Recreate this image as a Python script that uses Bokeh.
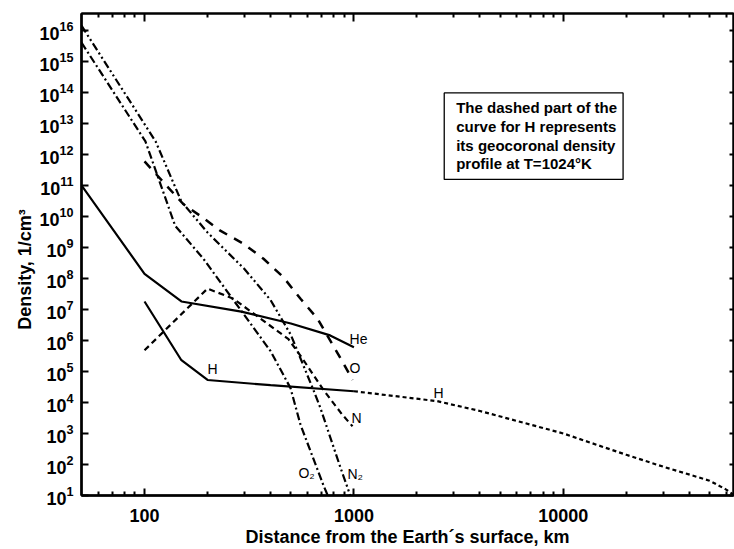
from bokeh.plotting import figure
from bokeh.models import LogAxis, FixedTicker, CustomJSTickFormatter, LogTickFormatter
from bokeh.core.properties import value
from bokeh.embed import file_html
from bokeh.resources import INLINE

# ---- data (distance from Earth's surface, km ; density, 1/cm^3) ----
he_km = [50, 100, 150, 290, 500, 770, 1000]
he_dens = [1.0e11, 1.4e8, 1.8e7, 8.5e6, 3.5e6, 1.45e6, 6.0e5]

h_km = [100, 150, 200, 400, 1000]
h_dens = [1.8e7, 2.3e5, 5.3e4, 3.6e4, 2.3e4]

hgeo_km = [1000, 2500, 4000, 10000, 20000, 30000, 50000, 60000, 65000]
hgeo_dens = [2.3e4, 1.1e4, 5.3e3, 1.0e3, 205, 85, 30, 15.5, 10.5]

o_km = [100, 153, 189, 231, 297, 370, 460, 556, 670, 881, 985]
o_dens = [5.9e11, 2.5e10, 9.3e9, 3.4e9, 1.3e9, 4.3e8, 1.1e8, 2.2e7, 5.0e6, 2.1e5, 5.3e4]

n_km = [100, 200, 266, 487, 568, 716, 881, 985]
n_dens = [4.8e5, 4.7e7, 2.2e7, 1.1e6, 2.6e5, 2.5e4, 4.0e3, 1.7e3]

n2_km = [50, 113, 150, 200, 300, 400, 500, 641, 692, 862, 932, 960]
n2_dens = [1.4e16, 2.6e12, 3.0e10, 3.0e9, 2.0e8, 2.0e7, 1.5e6, 2.5e4, 6.6e3, 80, 18, 10]

o2_km = [50, 101, 140, 191, 400, 498, 556, 714, 750]
o2_dens = [4.0e15, 2.6e12, 5.0e9, 4.3e8, 4.5e5, 2.9e4, 1.9e3, 22, 10]

x_major = [100.0, 1000.0, 10000.0]
x_minor = [60.0, 70.0, 80.0, 90.0, 200.0, 300.0, 400.0, 500.0, 600.0, 700.0, 800.0, 900.0,
           2000.0, 3000.0, 4000.0, 5000.0, 6000.0, 7000.0, 8000.0, 9000.0,
           20000.0, 30000.0, 40000.0, 50000.0, 60000.0]
y_major = [10.0 ** k for k in range(1, 17)]

note_lines = ["The dashed part of the", "curve for H represents",
              "its geocoronal density", "profile at T=1024\u00b0K"]

FONT = "Liberation Sans"

p = figure(width=734, height=549, x_axis_type="log", y_axis_type="log",
           x_range=(50.0, 65000.0), y_range=(10.0, 10 ** 16.54),
           output_backend="svg", toolbar_location=None,
           min_border_left=81, min_border_right=1, min_border_top=13, min_border_bottom=51,
           background_fill_color="white", border_fill_color="white")
p.grid.visible = False
p.outline_line_color = "black"
p.outline_line_width = 2

xa = p.xaxis[0]
xa.ticker = FixedTicker(ticks=x_major, minor_ticks=x_minor)
xa.formatter = CustomJSTickFormatter(code="return tick.toFixed(0);")
xa.axis_label = "Distance from the Earth\u00b4s surface, km"

ya = p.yaxis[0]
ya.ticker = FixedTicker(ticks=y_major, minor_ticks=[])
ya.formatter = LogTickFormatter(min_exponent=0)
ya.axis_label = "Density, 1/cm\u00b3" + "\u00a0" * 6

for ax in (xa, ya):
    ax.axis_line_width = 2.5
    ax.major_tick_in = 7
    ax.major_tick_out = 0
    ax.minor_tick_in = 4
    ax.minor_tick_out = 0
    ax.major_tick_line_width = 2
    ax.minor_tick_line_width = 2
    ax.major_label_text_font = FONT
    ax.major_label_text_font_size = "18px"
    ax.major_label_text_font_style = "bold"
    ax.major_label_text_color = "black"
    ax.axis_label_text_font = FONT
    ax.axis_label_text_font_size = "18px"
    ax.axis_label_text_font_style = "bold"
    ax.axis_label_text_color = "black"
xa.major_label_standoff = 13
xa.axis_label_standoff = 2
ya.major_label_standoff = 8
ya.axis_label_standoff = 1

top = LogAxis(ticker=FixedTicker(ticks=x_major, minor_ticks=x_minor),
              formatter=CustomJSTickFormatter(code="return '';"),
              major_label_text_font_size="6px",
              major_label_text_alpha=0, major_label_standoff=0,
              axis_line_width=2, major_tick_in=8, major_tick_out=0,
              minor_tick_in=4, minor_tick_out=0,
              major_tick_line_width=2, minor_tick_line_width=2)
p.add_layout(top, "above")
right = LogAxis(ticker=FixedTicker(ticks=y_major, minor_ticks=[]),
                formatter=CustomJSTickFormatter(code="return '';"),
                major_label_text_font_size="6px", major_label_text_alpha=0,
                major_label_standoff=0,
                axis_line_width=2, major_tick_in=4, major_tick_out=0,
                minor_tick_in=0, minor_tick_out=0, major_tick_line_width=2)
p.add_layout(right, "right")

# ---- curves ----
p.line(he_km, he_dens, line_color="black", line_width=2.2)
p.line(h_km, h_dens, line_color="black", line_width=2.2)
p.line(hgeo_km, hgeo_dens, line_color="black", line_width=2.2, line_dash="4 3")
p.line(o_km, o_dens, line_color="black", line_width=2.5, line_dash="9 8")
p.line(n_km, n_dens, line_color="black", line_width=2.2, line_dash="6 4")
p.line(n2_km, n2_dens, line_color="black", line_width=2.2, line_dash="8 3 2 3 2 3")
p.line(o2_km, o2_dens, line_color="black", line_width=2.2, line_dash="8 3 2 3")

# ---- curve labels ----
lab_x = [953, 953, 973, 543, 932, 200, 2400]
lab_y = [1.15e6, 1.26e5, 3.2e3, 55, 51, 1.17e5, 2.0e4]
lab_t = ["He", "O", "N", "O\u2082", "N\u2082", "H", "H"]
p.text(x=lab_x, y=lab_y, text=lab_t, text_font=value(FONT), text_font_size="14px",
       text_baseline="middle", text_align="left", text_color="black")

# ---- note box ----
p.quad(left=[2700], right=[19300], bottom=[10 ** 11.19], top=[10 ** 13.98],
       fill_color="white", line_color="black", line_width=1.3)
note_y = [10 ** 13.5, 10 ** 12.89, 10 ** 12.28, 10 ** 11.705]
p.text(x=[3080] * 4, y=note_y, text=note_lines, text_font=value(FONT), text_font_size="15px",
       text_font_style="bold", text_baseline="middle", text_align="left", text_color="black")

open("out.html", "w").write(file_html(p, INLINE))
